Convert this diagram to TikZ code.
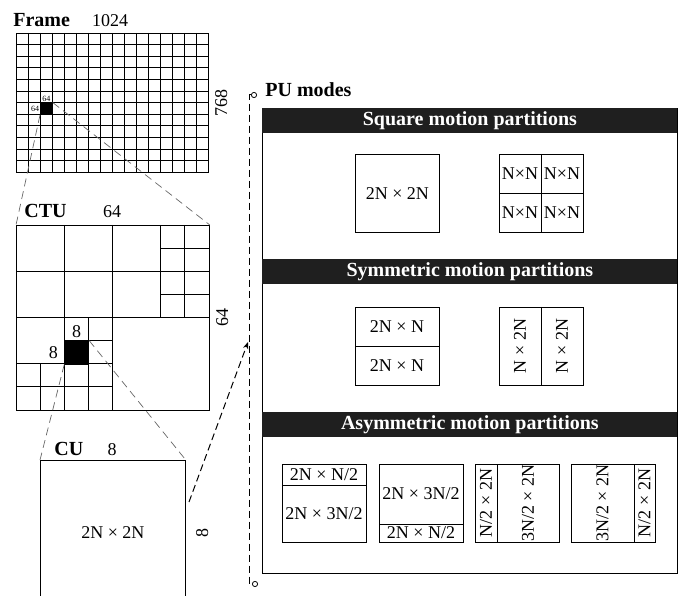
\documentclass[tikz,border=0pt]{standalone}
\usepackage{fontspec}
\setmainfont{Liberation Serif}
\usetikzlibrary{arrows.meta}

\tikzset{
  cellbox/.style={draw, inner sep=0pt, anchor=north west},
  partbox/.style={cellbox, minimum width=84pt, minimum height=78pt},
  headbar/.style={fill=black!88, text=white, inner sep=0pt, anchor=north west,
    minimum width=415pt, minimum height=25pt, font=\fontsize{20}{20}\selectfont\bfseries},
  heading/.style={font=\fontsize{20}{20}\selectfont\bfseries, inner sep=0pt, anchor=base west},
  dimlbl/.style={font=\fontsize{18}{18}\selectfont, inner sep=0pt},
  sidelbl/.style={dimlbl, rotate=90, anchor=north, inner sep=6pt},
  zoomline/.style={black!60, dash pattern=on 8pt off 5pt, line width=0.7pt},
  bracket/.style={dash pattern=on 7pt off 4pt, line width=1pt},
}

\begin{document}
\begin{tikzpicture}[x=1pt, y=-1pt, line width=0.8pt]
\useasboundingbox (0,0) rectangle (678,596);

% frame : 16 x 12 CTUs
\node[cellbox, minimum width=192pt, minimum height=139.2pt] (frame) at (16,33) {};
\foreach \i in {1,...,15} \draw (16+12*\i,33) -- ++(0,139.2);
\foreach \j in {1,...,11} \draw (16,33+11.6*\j) -- ++(192,0);
\node[cellbox, fill, minimum width=12pt, minimum height=11.6pt] (ctu0) at (40,102.6) {};
\node[font=\fontsize{8}{8}\selectfont, fill=white, inner sep=0.5pt, anchor=south] at (ctu0.north) {64};
\node[font=\fontsize{8}{8}\selectfont, fill=white, inner sep=0.5pt, anchor=east] at (ctu0.west) {64};
\node[heading] at (13,27) {Frame};
\node[dimlbl, anchor=base] at (110,27) {1024};
\node[sidelbl] at (frame.east) {768};

% CTU quadtree, in units of 8x8 blocks
\node[cellbox, minimum width=193pt, minimum height=185pt] (ctu) at (16,225) {};
\begin{scope}[shift={(16,225)}, x=24.125pt, y=-23.125pt]
  \draw (4,0) -- (4,8) (0,4) -- (8,4);
  \draw (2,0) -- (2,8) (0,2) -- (8,2);
  \draw (6,0) -- (6,4) (7,0) -- (7,4) (6,1) -- (8,1) (6,3) -- (8,3);
  \draw (0,6) -- (4,6) (3,4) -- (3,8) (2,5) -- (4,5);
  \draw (1,6) -- (1,8) (0,7) -- (4,7);
\end{scope}
\node[cellbox, fill, minimum width=24.125pt, minimum height=23.125pt] (cu0) at (64.25,340.6) {};
\node[dimlbl, anchor=south, inner sep=3pt] at (cu0.north) {8};
\node[dimlbl, anchor=east, inner sep=6pt] at (cu0.west) {8};
\node[heading] at (24,218) {CTU};
\node[dimlbl, anchor=base] at (112,218) {64};
\node[sidelbl] at (ctu.east) {64};

% CU
\node[cellbox, draw=none, dimlbl, anchor=north west, minimum width=145pt, minimum height=145pt] (cu) at (40,460) {2N × 2N};
\draw (cu.south west) -- (cu.north west) -- (cu.north east) -- (cu.south east);
\node[heading] at (54,455) {CU};
\node[dimlbl, anchor=base] at (112,455) {8};
\node[sidelbl, inner sep=10pt] at (cu.east) {8};

% zoom lines
\draw[zoomline] (ctu0.south west) -- (ctu.north west) (ctu0.north east) -- (ctu.north east);
\draw[zoomline] (cu0.south west) -- (cu.north west) (cu0.north east) -- (cu.north east);

% PU bracket
\coordinate (putop) at (257,95);
\coordinate (pubot) at (258,584);
\coordinate (cuout) at (189,502);
\coordinate (puin) at (248,342);
\draw[bracket, {Circle[open,length=6pt,line width=0.8pt]}-{Circle[open,length=6pt,line width=0.8pt]}] (putop) -- (249,95) -- (249,584) -- (pubot);
\draw[bracket, -{Stealth[length=7pt]}] (cuout) -- (puin);
\node[heading] at (265,97) {PU modes};

% PU modes panel
\node[cellbox, minimum width=415pt, minimum height=465pt] (pu) at (262,108) {};
\node[headbar] (sq) at (262,108) {Square motion partitions};
\node[headbar] (sym) at (262,259) {Symmetric motion partitions};
\node[headbar] (asym) at (262,412) {Asymmetric motion partitions};

% square
\node[partbox, dimlbl] (sqa) at (355,154) {2N × 2N};
\node[partbox] (sqb) at (499,154) {};
\draw (sqb.north) -- (sqb.south) (sqb.west) -- (sqb.east);
\foreach \x in {520,562}
  \foreach \y in {173.5,212.5}
    \node[dimlbl] at (\x,\y) {N×N};

% symmetric
\node[partbox] (syma) at (355,307) {};
\draw (syma.west) -- (syma.east);
\node[dimlbl] at (397,326.5) {2N × N};
\node[dimlbl] at (397,365.5) {2N × N};
\node[partbox] (symb) at (499,307) {};
\draw (symb.north) -- (symb.south);
\node[dimlbl, rotate=90] at (520,346) {N × 2N};
\node[dimlbl, rotate=90] at (562,346) {N × 2N};

% asymmetric
\node[partbox] (asa) at (282,464) {};
\draw (asa.north west) ++(0,21) -- ++(84,0);
\node[dimlbl] at (324,474.5) {2N × N/2};
\node[dimlbl] at (324,513.5) {2N × 3N/2};
\node[partbox] (asb) at (379,464) {};
\draw (asb.north west) ++(0,60) -- ++(84,0);
\node[dimlbl] at (421,494) {2N × 3N/2};
\node[dimlbl] at (421,533) {2N × N/2};
\node[partbox] (asc) at (475,464) {};
\draw (asc.north west) ++(22,0) -- ++(0,78);
\node[dimlbl, rotate=90] at (486,503) {N/2 × 2N};
\node[dimlbl, rotate=90] at (528,503) {3N/2 × 2N};
\node[partbox] (asd) at (571,464) {};
\draw (asd.north west) ++(63,0) -- ++(0,78);
\node[dimlbl, rotate=90] at (602.5,503) {3N/2 × 2N};
\node[dimlbl, rotate=90] at (644.5,503) {N/2 × 2N};
\end{tikzpicture}
\end{document}
